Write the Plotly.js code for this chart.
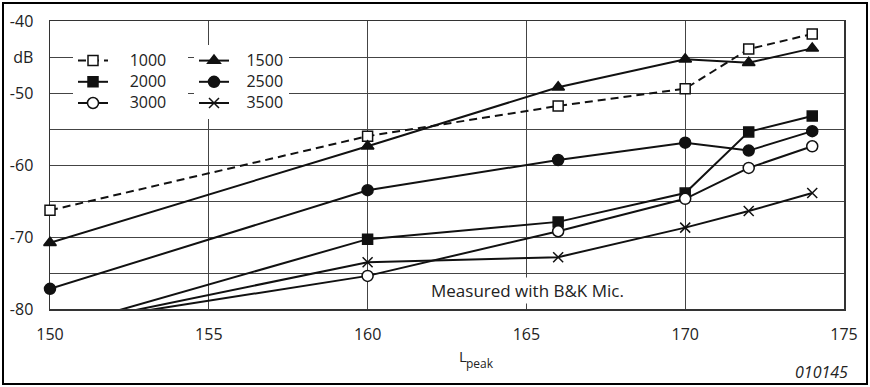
<!DOCTYPE html>
<html>
<head>
<meta charset="utf-8">
<script src="https://cdn.plot.ly/plotly-3.0.1.min.js"></script>
<style>
  html, body { margin: 0; padding: 0; background: #fff; }
  #wrap { position: relative; width: 870px; height: 387px; }
  #chart { width: 870px; height: 387px; }
  #frame { position: absolute; left: 2px; top: 2px; width: 866px; height: 383px;
           border: 2px solid #000; box-sizing: border-box; pointer-events: none; }
</style>
</head>
<body>
<div id="wrap"><div id="chart"></div><div id="frame"></div></div>
<script>
// ---- data ----
const lpeak = [150, 160, 166, 170, 172, 174];
const s1000 = [-66.3, -56.0, -51.8, -49.4, -43.9, -41.8];
const s1500 = [-70.8, -57.4, -49.2, -45.3, -45.8, -43.8];
const s2000 = [-82.9, -70.3, -67.9, -63.9, -55.4, -53.2];
const s2500 = [-77.2, -63.5, -59.3, -56.9, -58.0, -55.3];
const s3000 = [-82.3, -75.4, -69.2, -64.7, -60.4, -57.4];
const s3500 = [-82.6, -73.5, -72.8, -68.7, -66.4, -63.9];
const seriesNames = ['1000', '1500', '2000', '2500', '3000', '3500'];
const yTickVals = [-40, -45, -50, -55, -60, -65, -70, -75, -80];
const yTickText = ['-40', 'dB', '-50', '', '-60', '', '-70', '', '-80'];
const xTickVals = [150, 155, 160, 165, 170, 175];
const xTitleMain = 'L';
const xTitleSub = 'peak';
const note = 'Measured with B&K Mic.';
const figId = '010145';

const FONT = 'Open Sans, Liberation Sans, sans-serif';
const NB = '\u00a0';
const pre1 = NB.repeat(4), post1 = NB.repeat(4);
const pre2 = NB.repeat(3);

function label(name, pre, post) {
  return '<span style="font-size:16px">' + pre + name + (post || '') + '</span>';
}

function tr(y, name, symbol, fill, legend, pre, post, dash, clip, size) {
  return {
    x: lpeak, y: y, type: 'scatter', mode: 'lines+markers',
    name: label(name, pre, post), legend: legend, cliponaxis: clip,
    line: { color: '#111', width: 2, dash: dash || 'solid' },
    marker: { symbol: symbol, size: size || 10, color: fill,
              line: { color: '#111', width: 1.5 } }
  };
}

const traces = [
  tr(s1000, seriesNames[0], 'square', '#fff', 'legend', pre1, post1, '8px,5px', false, 10),
  tr(s2000, seriesNames[2], 'square', '#111', 'legend', pre1, post1, null, true, 10),
  tr(s3000, seriesNames[4], 'circle', '#fff', 'legend', pre1, post1, null, true, 11),
  tr(s1500, seriesNames[1], 'triangle-up', '#111', 'legend2', pre2, '', null, false, 11),
  tr(s2500, seriesNames[3], 'circle', '#111', 'legend2', pre2, '', null, false, 11),
  tr(s3500, seriesNames[5], 'x-thin-open', '#111', 'legend2', pre2, '', null, true, 10)
];

const L = 50, R = 26, T = 21, B = 78, W = 870, H = 387;
const px = v => (v - L) / (W - L - R);
const py = v => 1 - (v - T) / (H - T - B);

const legendCommon = {
  xanchor: 'left', yanchor: 'top', bgcolor: '#fff', borderwidth: 0,
  font: { family: FONT, size: 14, color: '#222' }, tracegroupgap: 0
};

const layout = {
  width: W, height: H,
  margin: { l: L, r: R, t: T, b: B, pad: 0 },
  paper_bgcolor: '#fff', plot_bgcolor: '#fff',
  font: { family: FONT, size: 16, color: '#222' },
  showlegend: true,
  xaxis: {
    range: [150, 175], tickvals: xTickVals, ticks: '',
    showgrid: true, gridcolor: '#444', gridwidth: 1,
    showline: true, linecolor: '#333', linewidth: 1.5, mirror: true,
    zeroline: false, layer: 'below traces', ticklabelstandoff: 10,
    tickfont: { family: FONT, size: 16, color: '#222' }
  },
  yaxis: {
    range: [-80, -40], tickvals: yTickVals, ticktext: yTickText, ticks: '',
    showgrid: true, gridcolor: '#444', gridwidth: 1,
    showline: true, linecolor: '#333', linewidth: 1.5, mirror: true,
    zeroline: false, layer: 'below traces', ticklabelstandoff: 12,
    tickfont: { family: FONT, size: 16, color: '#222' }
  },
  legend: Object.assign({ x: px(73), y: py(45) }, legendCommon),
  legend2: Object.assign({ x: px(194), y: py(45) }, legendCommon),
  annotations: [
    { text: note, x: 165.05, y: -77.45, xref: 'x', yref: 'y', showarrow: false,
      bgcolor: '#fff', font: { family: FONT, size: 17, color: '#222' } },
    { text: xTitleMain, x: px(457), y: py(356), xref: 'paper', yref: 'paper', xanchor: 'left', yanchor: 'middle',
      showarrow: false, font: { family: FONT, size: 15, color: '#222' } },
    { text: xTitleSub, x: px(464), y: py(363.5), xref: 'paper', yref: 'paper', xanchor: 'left', yanchor: 'middle',
      showarrow: false, font: { family: FONT, size: 12, color: '#222' } },
    { text: figId, x: px(850), y: py(372), xref: 'paper', yref: 'paper', xanchor: 'right', yanchor: 'middle',
      showarrow: false, font: { family: FONT, size: 16, color: '#222', style: 'italic' } }
  ]
};

Plotly.newPlot('chart', traces, layout, { displayModeBar: false, staticPlot: true });
</script>
</body>
</html>
